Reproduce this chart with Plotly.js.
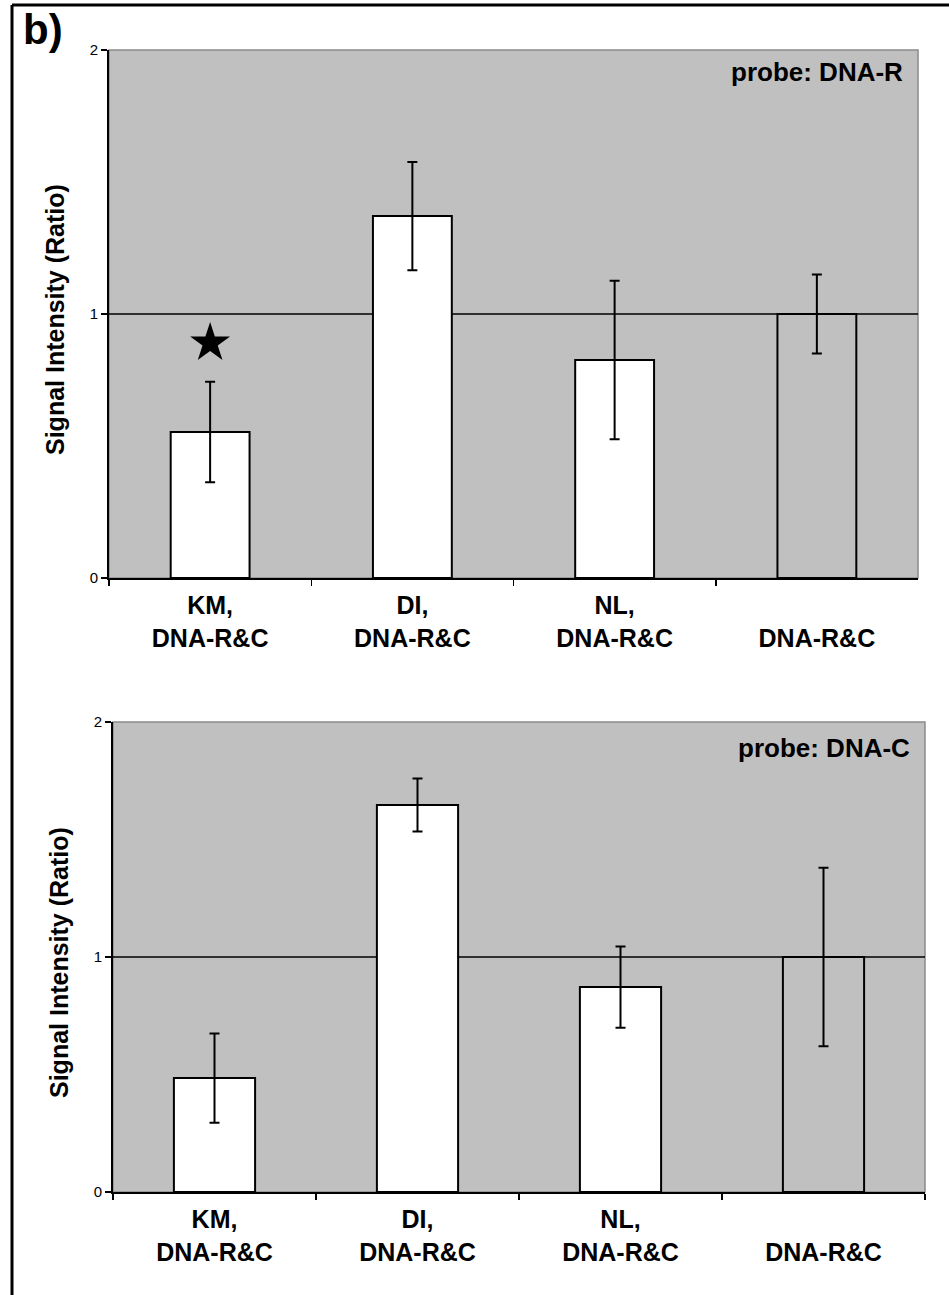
<!DOCTYPE html>
<html>
<head>
<meta charset="utf-8">
<script src="https://cdn.plot.ly/plotly-3.0.1.min.js"></script>
<style>
  html, body { margin: 0; padding: 0; background: #ffffff; }
  #chart { width: 949px; height: 1295px; }
</style>
</head>
<body>
<div id="chart"></div>
<script>
// ---- data ----
var categories = ['KM,<br>DNA-R&C', 'DI,<br>DNA-R&C', 'NL,<br>DNA-R&C', '<br>DNA-R&C'];
var yTickVals = [0, 1, 2];
var yTickText = ['0', '1', '2'];

var probeR_values = [0.553, 1.371, 0.826, 1.0];
var probeR_errors = [0.19, 0.205, 0.30, 0.15];

var probeC_values = [0.485, 1.647, 0.872, 1.0];
var probeC_errors = [0.19, 0.113, 0.173, 0.38];

var starCategory = [categories[0]];
var starValue = [0.89];

var panelLabel = 'b)';
var titleR = 'probe: DNA-R';
var titleC = 'probe: DNA-C';
var yTitle = 'Signal Intensity (Ratio)';

// ---- layout helpers ----
var W = 949, H = 1295;
function px(x) { return x / W; }
function py(y) { return 1 - y / H; }

var FONT = 'Liberation Sans, Arial, Helvetica, sans-serif';
var BG = '#c0c0c0';
var barColors = ['#ffffff', '#ffffff', '#ffffff', BG];

function barTrace(vals, errs, xa, ya, w) {
  return {
    type: 'bar',
    x: categories,
    y: vals,
    xaxis: xa, yaxis: ya,
    width: w,
    marker: { color: barColors, line: { color: '#000000', width: 2 } },
    error_y: { type: 'data', array: errs, visible: true, color: '#000000', thickness: 2, width: 5 },
    hoverinfo: 'x+y',
    showlegend: false
  };
}

var traces = [
  barTrace(probeR_values, probeR_errors, 'x', 'y', 0.39),
  barTrace(probeC_values, probeC_errors, 'x2', 'y2', 0.40),
  {
    type: 'scatter', mode: 'markers',
    x: starCategory, y: starValue, xaxis: 'x', yaxis: 'y',
    marker: { symbol: 'star', size: 30, color: '#000000', line: { width: 0 } },
    showlegend: false, hoverinfo: 'skip'
  }
];

function xAxis(domain, anchor) {
  return {
    domain: domain, anchor: anchor, type: 'category',
    categoryorder: 'array', categoryarray: categories,
    range: [-0.5, 3.5],
    showline: true, linecolor: '#000000', linewidth: 2,
    ticks: 'outside', tickson: 'boundaries', ticklen: 6, tickwidth: 1.5, tickcolor: '#000000',
    ticklabelstandoff: 4,
    showgrid: false, zeroline: false,
    tickfont: { family: FONT, size: 25, color: '#000000', weight: 700 },
    fixedrange: true
  };
}
function yAxis(domain, anchor) {
  return {
    domain: domain, anchor: anchor,
    range: [0, 2], tickmode: 'array', tickvals: yTickVals, ticktext: yTickText,
    showline: true, linecolor: '#000000', linewidth: 2,
    ticks: 'outside', ticklen: 6, tickwidth: 1.5, tickcolor: '#000000',
    showgrid: false, zeroline: false,
    tickfont: { family: FONT, size: 15, color: '#000000' },
    fixedrange: true
  };
}

var layout = {
  width: W, height: H,
  margin: { l: 0, r: 0, t: 0, b: 0, pad: 0 },
  paper_bgcolor: '#ffffff',
  plot_bgcolor: BG,
  showlegend: false,
  barmode: 'group',
  xaxis: xAxis([px(109), px(918)], 'y'),
  yaxis: yAxis([py(578), py(50)], 'x'),
  xaxis2: xAxis([px(113), px(925)], 'y2'),
  yaxis2: yAxis([py(1192), py(722)], 'x2'),
  shapes: [
    // outer frame
    { type: 'line', xref: 'paper', yref: 'paper', x0: px(12), x1: px(12), y0: 0, y1: py(5),
      line: { color: '#000000', width: 3 } },
    { type: 'line', xref: 'paper', yref: 'paper', x0: px(12), x1: 1, y0: py(5), y1: py(5),
      line: { color: '#000000', width: 3 } },
    // plot area borders
    { type: 'rect', xref: 'x domain', yref: 'y domain', x0: 0, x1: 1, y0: 0, y1: 1,
      line: { color: '#8a8a8a', width: 1.5 }, layer: 'below' },
    { type: 'rect', xref: 'x2 domain', yref: 'y2 domain', x0: 0, x1: 1, y0: 0, y1: 1,
      line: { color: '#8a8a8a', width: 1.5 }, layer: 'below' },
    // reference lines at ratio 1
    { type: 'line', xref: 'x domain', yref: 'y', x0: 0, x1: 1, y0: 1, y1: 1,
      line: { color: '#000000', width: 1.5 }, layer: 'below' },
    { type: 'line', xref: 'x2 domain', yref: 'y2', x0: 0, x1: 1, y0: 1, y1: 1,
      line: { color: '#000000', width: 1.5 }, layer: 'below' }
  ],
  annotations: [
    { text: panelLabel, xref: 'paper', yref: 'paper', x: px(21), y: py(4),
      xanchor: 'left', yanchor: 'top', showarrow: false,
      font: { family: FONT, size: 42, color: '#000000', weight: 700 } },
    { text: titleR, xref: 'paper', yref: 'paper', x: px(905), y: py(72),
      xanchor: 'right', yanchor: 'middle', showarrow: false,
      font: { family: FONT, size: 26, color: '#000000', weight: 700 } },
    { text: titleC, xref: 'paper', yref: 'paper', x: px(912), y: py(748),
      xanchor: 'right', yanchor: 'middle', showarrow: false,
      font: { family: FONT, size: 26, color: '#000000', weight: 700 } },
    { text: yTitle, xref: 'paper', yref: 'paper', x: px(55), y: py(320),
      xanchor: 'center', yanchor: 'middle', textangle: -90, showarrow: false,
      font: { family: FONT, size: 25, color: '#000000', weight: 700 } },
    { text: yTitle, xref: 'paper', yref: 'paper', x: px(59), y: py(963),
      xanchor: 'center', yanchor: 'middle', textangle: -90, showarrow: false,
      font: { family: FONT, size: 25, color: '#000000', weight: 700 } }
  ]
};

Plotly.newPlot('chart', traces, layout, { staticPlot: true, displayModeBar: false });
</script>
</body>
</html>
